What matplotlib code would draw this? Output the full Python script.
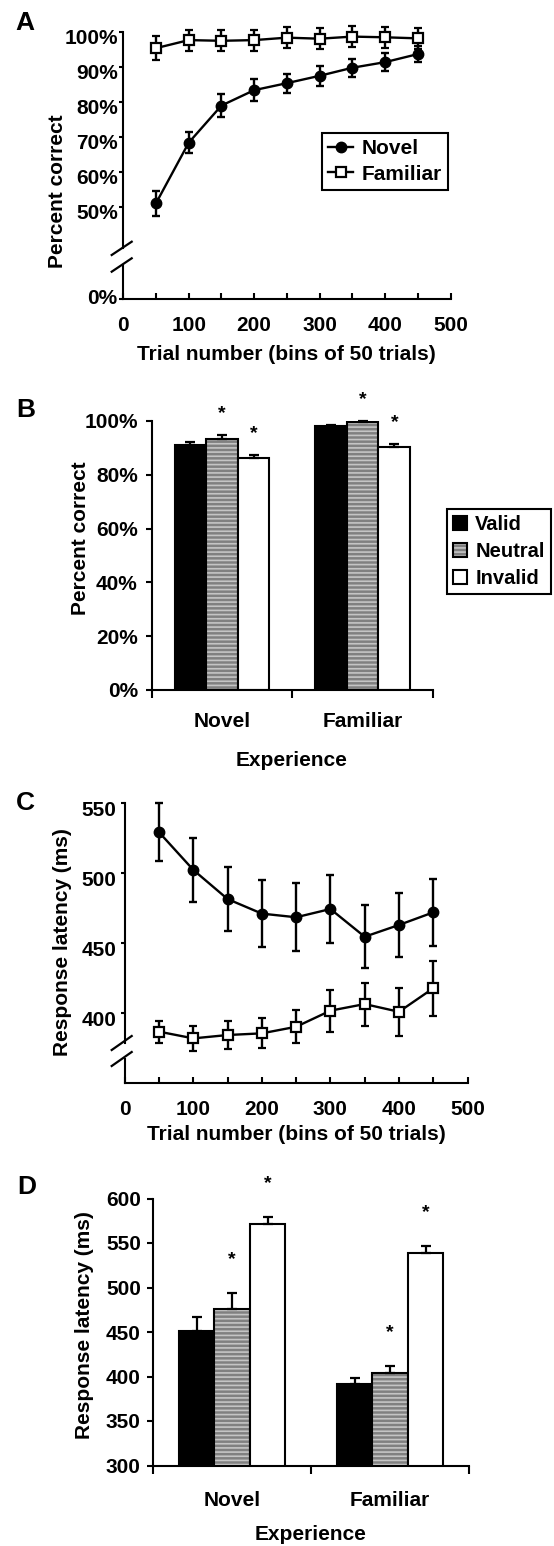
import numpy as np
import matplotlib
matplotlib.use("Agg")
import matplotlib.pyplot as plt
from matplotlib.lines import Line2D
from matplotlib.transforms import ScaledTranslation
from matplotlib.legend_handler import HandlerTuple

# ---- data ----
trial_bins = [50, 100, 150, 200, 250, 300, 350, 400, 450]

# A: percent correct over trials
acc_novel = [51.0, 68.3, 78.9, 83.3, 85.3, 87.4, 89.7, 91.3, 93.6]
acc_novel_err = [3.6, 3.0, 3.3, 3.1, 2.7, 2.8, 2.5, 2.5, 2.2]
acc_familiar = [95.3, 97.6, 97.4, 97.6, 98.3, 98.0, 98.6, 98.4, 98.1]
acc_familiar_err = [3.5, 3.0, 3.0, 3.0, 3.0, 3.0, 3.0, 3.0, 3.0]

# B: percent correct by cue type
experience = ["Novel", "Familiar"]
cue_types = ["Valid", "Neutral", "Invalid"]
acc_valid = [91.1, 98.2]
acc_valid_err = [1.2, 0.3]
acc_neutral = [93.2, 99.7]
acc_neutral_err = [1.6, 0.3]
acc_invalid = [86.1, 90.4]
acc_invalid_err = [1.2, 0.9]

# C: response latency over trials
lat_novel = [529.3, 502.4, 481.6, 471.2, 468.6, 474.5, 454.7, 463.1, 472.1]
lat_novel_err = [20.6, 23.0, 22.7, 23.8, 24.4, 24.0, 22.6, 23.0, 23.8]
lat_familiar = [386.9, 382.1, 384.5, 385.7, 390.4, 401.9, 406.6, 401.1, 417.9]
lat_familiar_err = [7.9, 9.0, 9.8, 10.7, 11.9, 14.9, 15.4, 17.0, 19.6]

# D: response latency by cue type
rt_valid = [451.0, 391.6]
rt_valid_err = [16.0, 7.0]
rt_neutral = [475.8, 403.6]
rt_neutral_err = [17.6, 8.2]
rt_invalid = [571.0, 538.4]
rt_invalid_err = [8.6, 8.2]

plt.rcParams["font.family"] = ["Liberation Sans", "DejaVu Sans"]
plt.rcParams["font.weight"] = "bold"
plt.rcParams["font.size"] = 15
plt.rcParams["axes.linewidth"] = 1.5
plt.rcParams["hatch.linewidth"] = 1.2

W, H = 554, 1546
fig = plt.figure(figsize=(W / 100, H / 100), dpi=100)


def rect(l, r, t, b):
    return [l / W, 1 - b / H, (r - l) / W, (b - t) / H]


def fx(x):
    return x / W


def fy(y):
    return 1 - y / H


def clean(ax):
    ax.spines["top"].set_visible(False)
    ax.spines["right"].set_visible(False)


def shift_labels(ax, dy_px):
    off = ScaledTranslation(0, -dy_px / 100, fig.dpi_scale_trans)
    for lab in ax.get_yticklabels():
        lab.set_transform(lab.get_transform() + off)


def break_marks(x0, x1, ys):
    for (ya, yb) in ys:
        fig.add_artist(Line2D([fx(x0), fx(x1)], [fy(yb), fy(ya)],
                              transform=fig.transFigure, color="black", lw=1.6))


def line_panel(l, r, top, brk_top, brk_bot, bottom, nov, nov_err, fam, fam_err,
               ylim, yticks, ylabels):
    ax = fig.add_axes(rect(l, r, top, brk_top))
    axb = fig.add_axes(rect(l, r, brk_bot, bottom))
    eb_n = ax.errorbar(trial_bins, nov, yerr=nov_err, fmt="-o", color="black",
                       ms=7.5, lw=1.7, elinewidth=1.7, capsize=3.2, capthick=1.7,
                       clip_on=False, zorder=3)
    eb_f = ax.errorbar(trial_bins, fam, yerr=fam_err, fmt="-s", color="black",
                       mfc="white", mec="black", mew=1.6, ms=7,
                       lw=1.7, elinewidth=1.7, capsize=3.2, capthick=1.7,
                       clip_on=False, zorder=3)
    for a in (ax, axb):
        clean(a)
        a.set_xlim(0, 500)
    ax.set_ylim(*ylim)
    ax.set_yticks(yticks, labels=ylabels)
    ax.spines["bottom"].set_visible(False)
    ax.tick_params(axis="x", bottom=False, labelbottom=False)
    ax.tick_params(axis="y", direction="out", length=3, width=1.5, pad=1)
    axb.set_ylim(0, 1)
    axb.set_xticks(range(0, 501, 100))
    axb.set_xticks(range(50, 500, 100), minor=True)
    axb.tick_params(axis="x", which="both", direction="in", length=4, width=1.5, pad=12)
    return ax, axb, eb_n, eb_f


# ---------------- Panel A ----------------
axA, axAb, nA, fA = line_panel(123.3, 450.5, 31.7, 248, 265, 299,
                               acc_novel, acc_novel_err, acc_familiar, acc_familiar_err,
                               (38.2, 100), [50, 60, 70, 80, 90, 100],
                               [f"{v}%" for v in [50, 60, 70, 80, 90, 100]])
axAb.set_yticks([0], labels=["0%"])
axAb.tick_params(axis="y", direction="out", length=3, width=1.5, pad=1)
shift_labels(axA, 5)
shift_labels(axAb, -3)
break_marks(111.7, 131.7, [(241.7, 255), (258.3, 271.7)])
legA = axA.legend([nA[0], fA[0]], ["Novel", "Familiar"], loc="upper left",
                  bbox_to_anchor=(fx(322), fy(133)), bbox_transform=fig.transFigure,
                  fancybox=False, edgecolor="black", framealpha=1, borderaxespad=0,
                  handlelength=1.2, handletextpad=0.4, labelspacing=0.3,
                  borderpad=0.3, fontsize=15)
legA.get_frame().set_linewidth(1.5)
fig.text(fx(24.7), fy(23.5), "A", fontsize=19, ha="center", va="center")
fig.text(fx(57.4), fy(191), "Percent correct", rotation=90, ha="center", va="center")
fig.text(fx(286.5), fy(354), "Trial number (bins of 50 trials)", ha="center", va="center")


# ---------------- bar panels ----------------
def bar_panel(l, r, top, bottom, valid, valid_err, neutral, neutral_err,
              invalid, invalid_err, ylim, yticks, ylabels, star_off, ypad, xpad):
    ax = fig.add_axes(rect(l, r, top, bottom))
    clean(ax)
    x = np.arange(len(experience)) + 0.5
    w = 0.225
    zeros = np.zeros(len(experience))
    bv = ax.bar(x - w, valid, w, color="black", edgecolor="black", lw=1.5)
    bn_fill = ax.bar(x, neutral, w, color="#808080", edgecolor="#c4c4c4",
                     hatch="----", lw=0)
    bn_edge = ax.bar(x, neutral, w, fill=False, edgecolor="black", lw=1.5)
    bi = ax.bar(x + w, invalid, w, color="white", edgecolor="black", lw=1.5)
    for xs, vals, errs in ((x - w, valid, valid_err), (x, neutral, neutral_err),
                           (x + w, invalid, invalid_err)):
        ax.errorbar(xs, vals, yerr=[zeros, errs], fmt="none", ecolor="black",
                    elinewidth=1.6, capsize=3.5, capthick=1.6, clip_on=False)
    for xs, vals, errs in ((x, neutral, neutral_err), (x + w, invalid, invalid_err)):
        for xi, v, e in zip(xs, vals, errs):
            ax.annotate("*", xy=(xi, v + e), xytext=(0, star_off),
                        textcoords="offset points", ha="center", va="bottom",
                        fontsize=14, annotation_clip=False)
    ax.set_xlim(0, 2)
    ax.set_ylim(*ylim)
    ax.set_yticks(yticks, labels=ylabels)
    ax.set_xticks([0, 1, 2], labels=["", "", ""])
    ax.set_xticks(x, labels=experience, minor=True)
    ax.tick_params(axis="x", which="major", direction="out", length=6, width=1.5)
    ax.tick_params(axis="x", which="minor", length=0, pad=xpad)
    ax.tick_params(axis="y", direction="out", length=4, width=1.5, pad=ypad)
    return ax, bv, (bn_fill, bn_edge), bi


axB, bvB, bnB, biB = bar_panel(151.7, 433, 421, 690,
                               acc_valid, acc_valid_err, acc_neutral, acc_neutral_err,
                               acc_invalid, acc_invalid_err, (0, 100),
                               [0, 20, 40, 60, 80, 100],
                               [f"{v}%" for v in [0, 20, 40, 60, 80, 100]],
                               9.5, 6, 16)
legB = axB.legend([bvB, bnB, biB], cue_types, loc="upper left",
                  bbox_to_anchor=(fx(447), fy(509)), bbox_transform=fig.transFigure,
                  handler_map={tuple: HandlerTuple(ndivide=1, pad=0)},
                  fancybox=False, edgecolor="black", framealpha=1, borderaxespad=0,
                  handlelength=0.7, handleheight=0.7, handletextpad=0.4,
                  labelspacing=0.4, borderpad=0.3, fontsize=14.5)
legB.get_frame().set_linewidth(1.5)
fig.text(fx(25.6), fy(410), "B", fontsize=19, ha="center", va="center")
fig.text(fx(80.4), fy(538), "Percent correct", rotation=90, ha="center", va="center")
fig.text(fx(292), fy(760), "Experience", ha="center", va="center")

# ---------------- Panel C ----------------
axC, axCb, nC, fC = line_panel(124.8, 467.5, 803.3, 1043, 1059, 1083.3,
                               lat_novel, lat_novel_err, lat_familiar, lat_familiar_err,
                               (378.8, 550), [400, 450, 500, 550],
                               [str(v) for v in [400, 450, 500, 550]])
axCb.set_yticks([])
axC.tick_params(axis="y", pad=3)
shift_labels(axC, 5)
break_marks(111.7, 131.7, [(1036, 1050), (1052, 1066)])
axCb.tick_params(axis="x", which="both", pad=12)
fig.text(fx(25.6), fy(803), "C", fontsize=19, ha="center", va="center")
fig.text(fx(62.7), fy(942.5), "Response latency (ms)", rotation=90, ha="center", va="center")
fig.text(fx(296), fy(1135), "Trial number (bins of 50 trials)", ha="center", va="center")

# ---------------- Panel D ----------------
axD, _, _, _ = bar_panel(153.3, 469, 1198.5, 1465.5,
                         rt_valid, rt_valid_err, rt_neutral, rt_neutral_err,
                         rt_invalid, rt_invalid_err, (300, 600),
                         [300, 350, 400, 450, 500, 550, 600],
                         [str(v) for v in [300, 350, 400, 450, 500, 550, 600]],
                         18, 5, 18)
fig.text(fx(27), fy(1187), "D", fontsize=19, ha="center", va="center")
fig.text(fx(84.8), fy(1325), "Response latency (ms)", rotation=90, ha="center", va="center")
fig.text(fx(311), fy(1535), "Experience", ha="center", va="center")

fig.savefig("out.png", dpi=100)
